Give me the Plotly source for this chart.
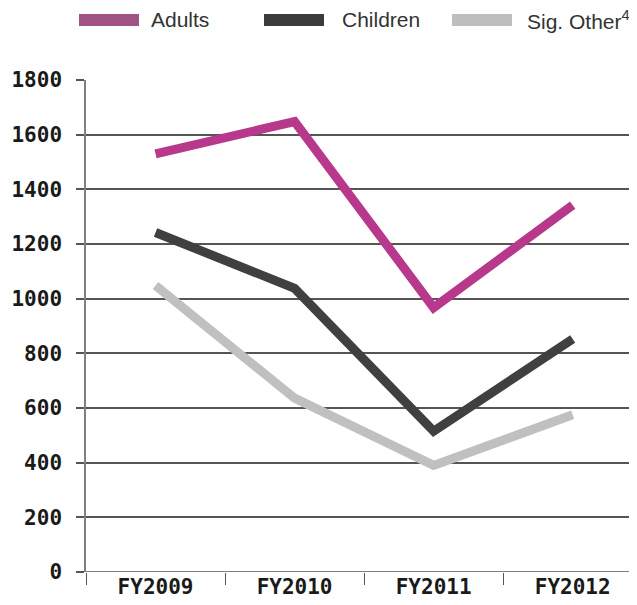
import plotly.graph_objects as go

categories = ["FY2009", "FY2010", "FY2011", "FY2012"]
adults = [1530, 1648, 967, 1342]
children = [1242, 1038, 515, 852]
sig_other = [1048, 636, 390, 575]
y_ticks = [0, 200, 400, 600, 800, 1000, 1200, 1400, 1600, 1800]
series_names = ["Adults", "Children", "Sig. Other<sup>4</sup>"]

line_colors = ["#b8388b", "#404042", "#c0c0c2"]
swatch_colors = ["#a15285", "#3b3b3d", "#bdbec0"]

W, H = 637, 605
ML, MT, MB, MR = 78, 72, 41, 0
PW = W - ML - MR
PH = H - MT - MB
OFF = 8  # browser body margin


def px(xs):
    return (xs - OFF - ML) / PW


def py(ys):
    return (H - MB - (ys - OFF)) / PH


fig = go.Figure()
for name, vals, color in zip(series_names, [adults, children, sig_other], line_colors):
    fig.add_trace(go.Scatter(
        x=categories, y=vals, name=name, mode="lines",
        line=dict(color=color, width=9),
        cliponaxis=False, showlegend=False,
    ))

# legend drawn as swatches + labels
swatch_left = [79, 264, 452]
text_left = [149, 340, 525]
for name, col, sx, tx in zip(series_names, swatch_colors, swatch_left, text_left):
    fig.add_shape(type="rect", xref="paper", yref="paper",
                  x0=px(sx), x1=px(sx + 60), y0=py(26), y1=py(14),
                  fillcolor=col, line=dict(width=0))
    fig.add_annotation(xref="paper", yref="paper", x=px(tx), y=py(20),
                       xanchor="left", yanchor="middle", showarrow=False,
                       text=name,
                       font=dict(family="Liberation Sans", size=21, color="#333333"))

tick_font = dict(family="DejaVu Sans Mono", size=21, color="#1a1a1a", weight="bold")

fig.update_layout(
    width=W, height=H,
    margin=dict(l=ML, r=MR, t=MT, b=MB, autoexpand=False),
    paper_bgcolor="white", plot_bgcolor="white",
    xaxis=dict(
        type="category", range=[-0.5, 3.52], automargin=False,
        showgrid=False, showline=False, zeroline=False,
        ticks="outside", tickson="boundaries", ticklen=12, tickwidth=1.2,
        tickcolor="#555555",
        tickfont=tick_font,
    ),
    yaxis=dict(
        range=[0, 1800], tickvals=y_ticks, automargin=False,
        showgrid=True, gridcolor="#555555", gridwidth=1.5,
        showline=True, linecolor="#808080", linewidth=1.5,
        zeroline=False,
        ticks="outside", ticklen=8, tickcolor="#555555", tickwidth=1.5,
        ticklabelstandoff=10,
        tickfont=tick_font,
    ),
)
fig.add_hline(y=0, line=dict(color="#555555", width=1.5))

fig.write_html("out.html")
